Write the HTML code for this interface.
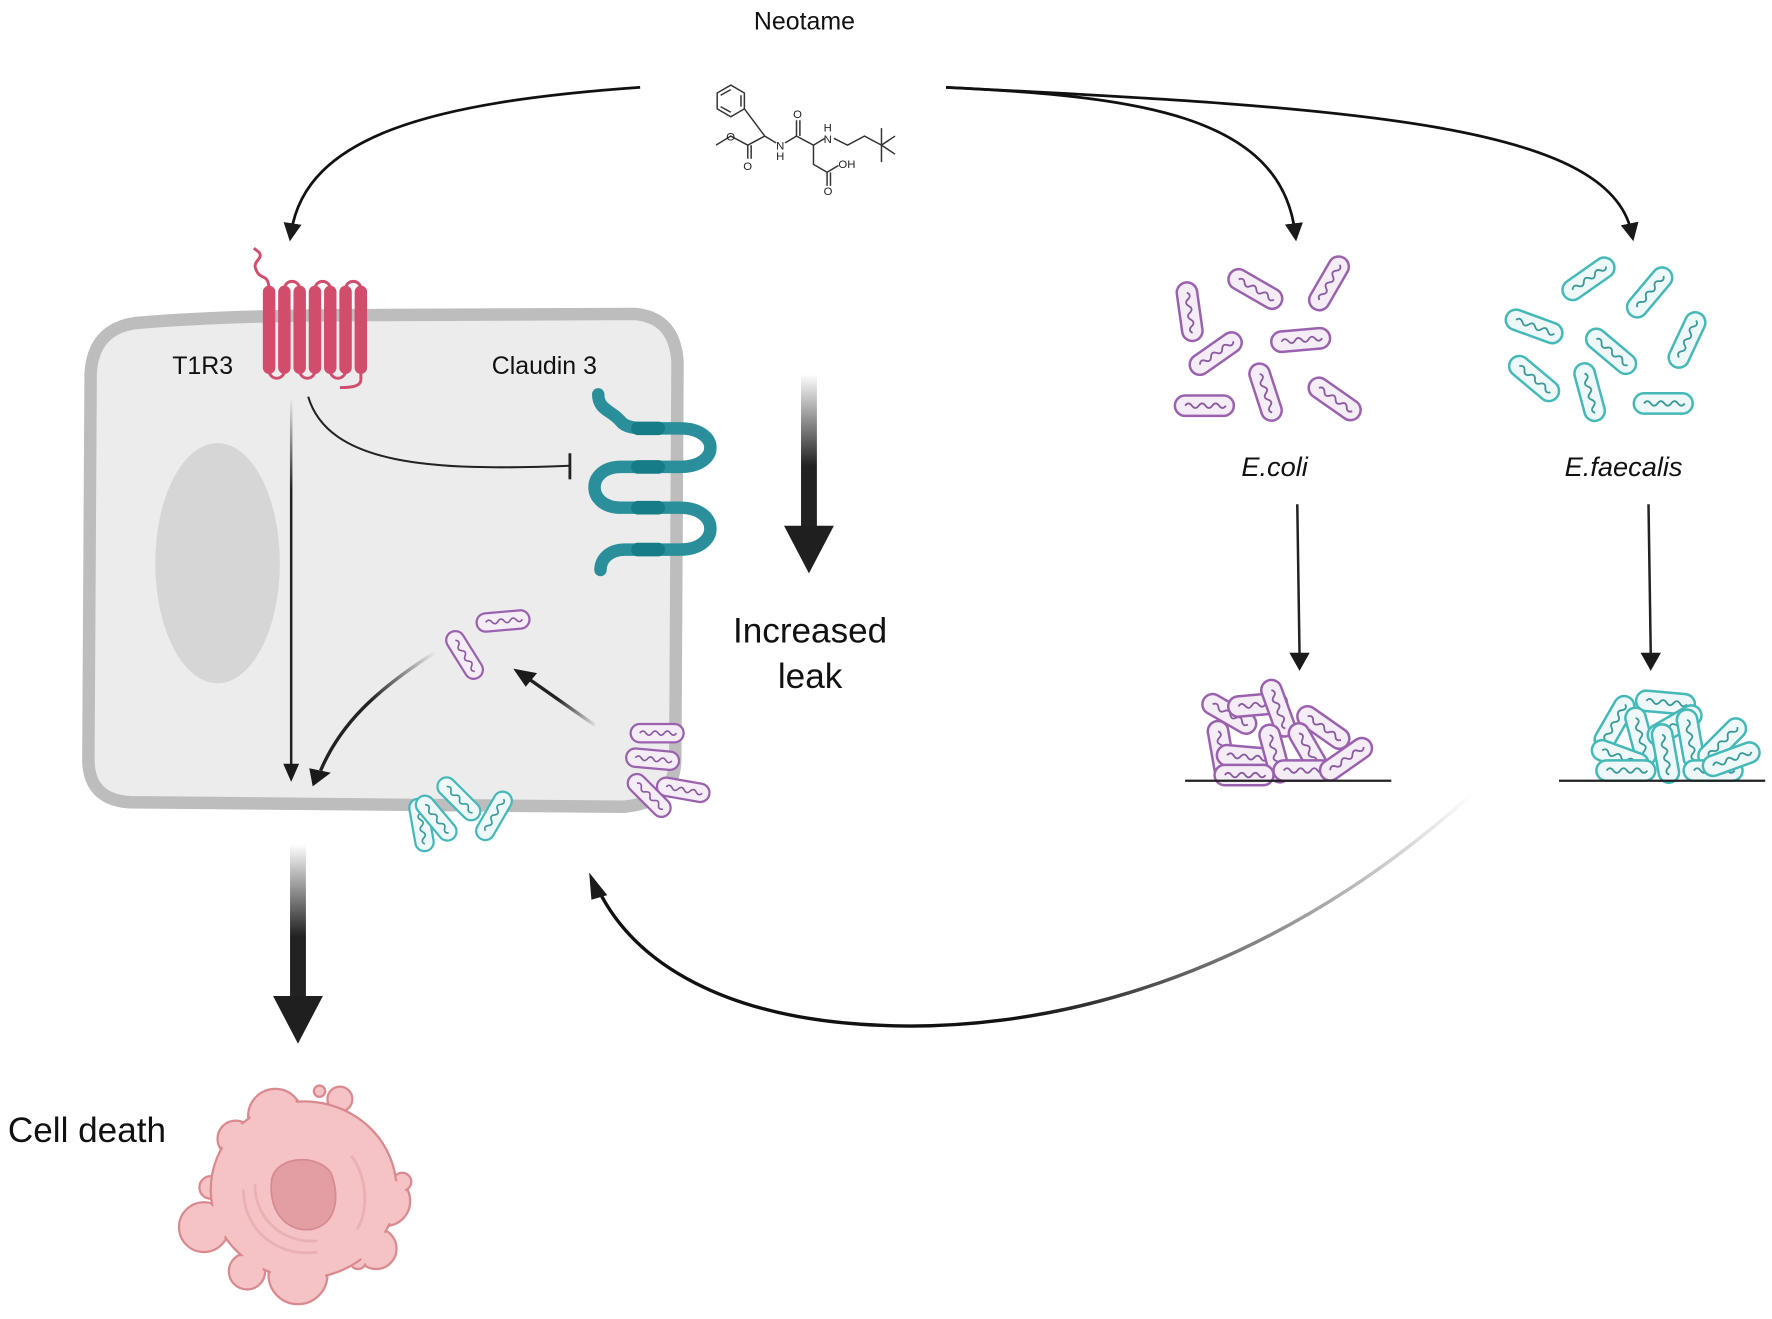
<!DOCTYPE html>
<html><head><meta charset="utf-8"><style>
html,body{margin:0;padding:0;background:#fff}
svg{display:block}
text{font-family:"Liberation Sans",sans-serif}
</style></head><body>
<svg width="1772" height="1319" viewBox="0 0 1564 1164" xmlns="http://www.w3.org/2000/svg">
<defs>
<marker id="ah2" viewBox="0 0 12 12" markerWidth="16" markerHeight="16" refX="6" refY="6" orient="auto" markerUnits="userSpaceOnUse"><path d="M0,0 L12,6 L0,12 Z" fill="#1a1a1a"/></marker>
<linearGradient id="gv" x1="0" y1="0" x2="0" y2="1"><stop offset="0" stop-color="#fff"/><stop offset="0.6" stop-color="#222"/><stop offset="1" stop-color="#222"/></linearGradient>
<linearGradient id="gv2" gradientUnits="userSpaceOnUse" x1="0" y1="350" x2="0" y2="680"><stop offset="0" stop-color="#eee"/><stop offset="0.25" stop-color="#222"/><stop offset="1" stop-color="#222"/></linearGradient>
<linearGradient id="gbig" gradientUnits="userSpaceOnUse" x1="1300" y1="700" x2="900" y2="900"><stop offset="0" stop-color="#fff"/><stop offset="1" stop-color="#111"/></linearGradient>
<linearGradient id="gd1" gradientUnits="userSpaceOnUse" x1="385" y1="575" x2="300" y2="660"><stop offset="0" stop-color="#eee"/><stop offset="0.6" stop-color="#222"/></linearGradient>
<linearGradient id="gd2" gradientUnits="userSpaceOnUse" x1="525" y1="640" x2="470" y2="600"><stop offset="0" stop-color="#ddd"/><stop offset="0.6" stop-color="#222"/></linearGradient>
<g id="bp"><rect x="-26" y="-9" width="52" height="18" rx="9" fill="#f4edf6" stroke="#9a62ae" stroke-width="2.2"/><path d="M-17,0 q3,-4 6,0 t6,0 t6,0 t6,0 t6,0 t6,0" stroke="#8a5aa0" fill="none" stroke-width="1.6"/></g>
<g id="bt"><rect x="-26" y="-9" width="52" height="18" rx="9" fill="#eef8f8" stroke="#45b8b8" stroke-width="2.2"/><path d="M-17,0 q3,-4 6,0 t6,0 t6,0 t6,0 t6,0 t6,0" stroke="#3a9a9a" fill="none" stroke-width="1.6"/></g>
</defs>

<text x="710" y="26" font-size="22" text-anchor="middle" fill="#111">Neotame</text>
<g stroke="#333" stroke-width="1.3" fill="none">
<polygon points="645,75 657,82 657,96 645,103 633,96 633,82"/>
<path d="M636,84 L645,79 M654,84 L654,94 M636,94 L645,99"/>
<path d="M657,96 L666,108 L675,120"/>
<path d="M632,128 L645,120 L660,128 L675,120 L685,126 M693,126 L703,120 L718,128 L728,122 M736,122 L748,128 L763,120 L778,128"/>
<path d="M778,128 L790,120 M778,128 L790,136 M778,128 L778,113 M778,128 L778,143"/>
<path d="M660,128 L660,140 M663,128 L663,140"/>
<path d="M703,120 L703,106 M706,120 L706,106"/>
<path d="M718,128 L718,145 L730,152 L740,146 M730,152 L730,164 M733,152 L733,164"/>
</g>
<g font-size="10" fill="#222">
<text x="641" y="124">O</text><text x="656" y="150">O</text><text x="685" y="132">N</text><text x="685" y="141">H</text>
<text x="700" y="104">O</text><text x="727" y="126">N</text><text x="727" y="116">H</text>
<text x="740" y="148">OH</text><text x="727" y="172">O</text>
</g>

<path d="M565,77 C380,90 270,120 257,205" stroke="#111" stroke-width="2.4" fill="none" marker-end="url(#ah2)"/>
<path d="M835,77 C1000,85 1130,100 1143,205" stroke="#111" stroke-width="2.4" fill="none" marker-end="url(#ah2)"/>
<path d="M835,77 C1200,95 1420,110 1440,205" stroke="#111" stroke-width="2.4" fill="none" marker-end="url(#ah2)"/>

<path d="M120,285 Q82,290 80,330 L78,670 Q78,706 115,708 L550,712 Q596,708 596,670 L598,320 Q596,280 560,277 L330,278 Q200,278 120,285 Z" fill="#ececec" stroke="#bdbdbd" stroke-width="11"/>
<ellipse cx="192" cy="497" rx="55" ry="106" fill="#d7d6d7"/>

<g fill="#d24d6c">
<rect x="232" y="252" width="11" height="78" rx="5.5"/>
<rect x="245.5" y="252" width="11" height="78" rx="5.5"/>
<rect x="259" y="252" width="11" height="78" rx="5.5"/>
<rect x="272.5" y="252" width="11" height="78" rx="5.5"/>
<rect x="286" y="252" width="11" height="78" rx="5.5"/>
<rect x="299.5" y="252" width="11" height="78" rx="5.5"/>
<rect x="313" y="252" width="11" height="78" rx="5.5"/>
</g>
<g fill="none" stroke="#d24d6c" stroke-width="2.6">
<path d="M251,255 A6.7,6.7 0 0 1 264.5,255"/>
<path d="M278,255 A6.7,6.7 0 0 1 291.5,255"/>
<path d="M305,255 A6.7,6.7 0 0 1 318.5,255"/>
<path d="M237.5,327 A6.7,6.7 0 0 0 251,327"/>
<path d="M264.5,327 A6.7,6.7 0 0 0 278,327"/>
<path d="M291.5,327 A6.7,6.7 0 0 0 305,327"/>
<path d="M237.5,254 C236,240 230,248 226,238 C222,230 234,228 228,222 L224,219"/>
<path d="M318.5,327 L318.5,335 C318.5,340 313,342 300,342"/>
</g>
<text x="152" y="330" font-size="22" fill="#111">T1R3</text>
<text x="434" y="330" font-size="22" fill="#111">Claudin 3</text>

<path d="M528,348 C528,362 540,362 548,372 C552,377 560,378 570,378 L600,378 C636,378 636,412 600,412 L548,412 C517,412 517,448 548,448 L600,448 C636,448 636,485 600,485 L552,485 C536,485 530,495 530,503" fill="none" stroke="#2a8f9a" stroke-width="11" stroke-linecap="round"/>
<g fill="#167d87"><rect x="557" y="372" width="30" height="12" rx="6"/><rect x="557" y="406" width="30" height="12" rx="6"/><rect x="557" y="442" width="30" height="12" rx="6"/><rect x="557" y="479" width="30" height="12" rx="6"/></g>

<path d="M272,350 C290,410 380,416 503,411" stroke="#222" stroke-width="1.8" fill="none"/>
<path d="M503,400 L503,423" stroke="#222" stroke-width="2.5"/>
<path d="M257,350 L257,676" stroke="url(#gv2)" stroke-width="2.2" fill="none"/>
<path d="M250,674 L264,674 L257,690 Z" fill="#1a1a1a"/>
<path d="M385,575 C330,610 300,640 283,680" stroke="url(#gd1)" stroke-width="3" fill="none"/>
<path d="M273,678 L292,682 L276,694 Z" fill="#1a1a1a"/>
<path d="M525,640 L468,600" stroke="url(#gd2)" stroke-width="3" fill="none"/>
<path d="M453,590 L474,594 L464,606 Z" fill="#1a1a1a"/>

<rect x="707" y="330" width="14" height="135" fill="url(#gv)"/>
<path d="M692,464 L736,464 L714,506 Z" fill="#1f1f1f"/>
<text x="715" y="567" font-size="31" text-anchor="middle" fill="#111">Increased</text>
<text x="715" y="607" font-size="31" text-anchor="middle" fill="#111">leak</text>

<rect x="256" y="745" width="14" height="135" fill="url(#gv)"/>
<path d="M241,879 L285,879 L263,921 Z" fill="#1f1f1f"/>
<text x="7" y="1008" font-size="31" fill="#111">Cell death</text>

<g fill="#f5c3c6" stroke="#d98a8f" stroke-width="2">
<circle cx="208" cy="1005" r="16"/><circle cx="186" cy="1048" r="10"/><circle cx="180" cy="1083" r="22"/>
<circle cx="218" cy="1122" r="16"/><circle cx="263" cy="1125" r="26"/><circle cx="243" cy="985" r="24"/>
<circle cx="327" cy="1027" r="12"/><circle cx="340" cy="1060" r="22"/><circle cx="332" cy="1102" r="18"/>
<circle cx="300" cy="970" r="11"/><circle cx="282" cy="963" r="5"/><circle cx="355" cy="1043" r="8"/><circle cx="316" cy="1113" r="7"/>
<ellipse cx="268" cy="1050" rx="82" ry="78"/>
</g>
<g fill="#f5c3c6"><circle cx="208" cy="1005" r="14"/><circle cx="180" cy="1083" r="20"/><circle cx="263" cy="1125" r="24"/><circle cx="243" cy="985" r="22"/><circle cx="340" cy="1060" r="20"/><circle cx="332" cy="1102" r="16"/><circle cx="218" cy="1122" r="14"/></g>
<path d="M240,1040 C245,1020 280,1018 292,1035 C300,1055 298,1080 275,1085 C250,1088 236,1065 240,1040 Z" fill="#e39ea3" stroke="#d48a90" stroke-width="1.5"/>
<g fill="none" stroke="#eab1b5" stroke-width="2.5"><path d="M215,1050 C215,1090 250,1110 280,1105"/><path d="M225,1045 C225,1080 255,1098 280,1095"/><path d="M310,1020 C325,1040 325,1070 315,1085"/></g>

<use href="#bp" transform="translate(1050,275) rotate(82)"/>
<use href="#bp" transform="translate(1108,255) rotate(30)"/>
<use href="#bp" transform="translate(1173,250) rotate(-60)"/>
<use href="#bp" transform="translate(1073,312) rotate(-35)"/>
<use href="#bp" transform="translate(1148,300) rotate(-5)"/>
<use href="#bp" transform="translate(1117,346) rotate(72)"/>
<use href="#bp" transform="translate(1178,352) rotate(35)"/>
<use href="#bp" transform="translate(1063,358) rotate(0)"/>
<text x="1125" y="420" font-size="24" font-style="italic" text-anchor="middle" fill="#111">E.coli</text>
<use href="#bt" transform="translate(1402,246) rotate(-35)"/>
<use href="#bt" transform="translate(1456,258) rotate(-50)"/>
<use href="#bt" transform="translate(1354,288) rotate(20)"/>
<use href="#bt" transform="translate(1422,310) rotate(40)"/>
<use href="#bt" transform="translate(1489,300) rotate(-65)"/>
<use href="#bt" transform="translate(1354,334) rotate(40)"/>
<use href="#bt" transform="translate(1403,346) rotate(75)"/>
<use href="#bt" transform="translate(1468,356) rotate(0)"/>
<text x="1433" y="420" font-size="24" font-style="italic" text-anchor="middle" fill="#111">E.faecalis</text>

<path d="M1145,445 L1147,578" stroke="#222" stroke-width="2.2"/><path d="M1138,576 L1156,576 L1147,592 Z" fill="#1a1a1a"/>
<path d="M1455,445 L1457,578" stroke="#222" stroke-width="2.2"/><path d="M1448,576 L1466,576 L1457,592 Z" fill="#1a1a1a"/>

<use href="#bp" transform="translate(1085,630) rotate(30)"/>
<use href="#bp" transform="translate(1110,622) rotate(-5)"/>
<use href="#bp" transform="translate(1078,662) rotate(80)"/>
<use href="#bp" transform="translate(1100,668) rotate(5)"/>
<use href="#bp" transform="translate(1128,625) rotate(70)"/>
<use href="#bp" transform="translate(1125,665) rotate(75)"/>
<use href="#bp" transform="translate(1168,642) rotate(35)"/>
<use href="#bp" transform="translate(1155,662) rotate(60)"/>
<use href="#bp" transform="translate(1150,680) rotate(0)"/>
<use href="#bp" transform="translate(1188,670) rotate(-35)"/>
<use href="#bp" transform="translate(1098,684) rotate(0)"/>
<path d="M1046,689 L1228,689" stroke="#222" stroke-width="2"/>

<use href="#bt" transform="translate(1470,620) rotate(5)"/>
<use href="#bt" transform="translate(1425,638) rotate(-60)"/>
<use href="#bt" transform="translate(1448,650) rotate(75)"/>
<use href="#bt" transform="translate(1478,640) rotate(-30)"/>
<use href="#bt" transform="translate(1492,652) rotate(80)"/>
<use href="#bt" transform="translate(1470,665) rotate(80)"/>
<use href="#bt" transform="translate(1520,655) rotate(-45)"/>
<use href="#bt" transform="translate(1430,668) rotate(20)"/>
<use href="#bt" transform="translate(1435,680) rotate(0)"/>
<use href="#bt" transform="translate(1512,680) rotate(0)"/>
<use href="#bt" transform="translate(1528,670) rotate(-20)"/>
<path d="M1376,689 L1558,689" stroke="#222" stroke-width="2"/>

<use href="#bp" transform="translate(444,548) rotate(-5) scale(0.9)"/>
<use href="#bp" transform="translate(410,578) rotate(58) scale(0.9)"/>
<use href="#bp" transform="translate(580,647) rotate(0) scale(0.9)"/>
<use href="#bp" transform="translate(576,670) rotate(5) scale(0.9)"/>
<use href="#bp" transform="translate(603,697) rotate(10) scale(0.9)"/>
<use href="#bp" transform="translate(573,702) rotate(45) scale(0.9)"/>
<use href="#bt" transform="translate(372,728) rotate(80) scale(0.9)"/>
<use href="#bt" transform="translate(405,705) rotate(45) scale(0.9)"/>
<use href="#bt" transform="translate(385,722) rotate(50) scale(0.9)"/>
<use href="#bt" transform="translate(436,720) rotate(-60) scale(0.9)"/>

<path d="M1300,700 C1100,880 900,910 780,905 C640,900 560,850 528,785" stroke="url(#gbig)" stroke-width="3" fill="none"/>
<path d="M520,770 L536,790 L522,794 Z" fill="#1a1a1a"/>
</svg>
</body></html>
